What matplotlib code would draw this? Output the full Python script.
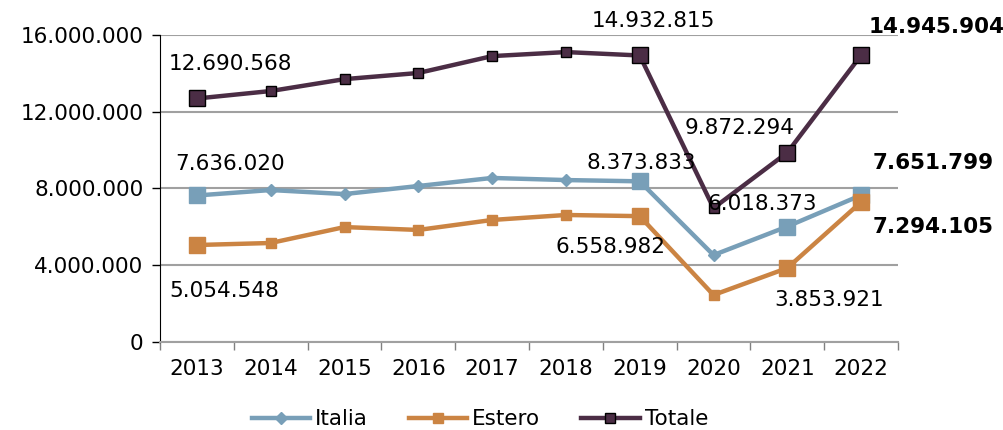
import numpy as np
import matplotlib.pyplot as plt
from matplotlib.ticker import FuncFormatter

anni = ["2013", "2014", "2015", "2016", "2017", "2018", "2019", "2020", "2021", "2022"]
italia = [7636020, 7920000, 7710000, 8130000, 8550000, 8440000, 8373833, 4530000, 6018373, 7651799]
estero = [5054548, 5160000, 5990000, 5840000, 6360000, 6620000, 6558982, 2450000, 3853921, 7294105]
totale = [12690568, 13080000, 13700000, 14020000, 14900000, 15110000, 14932815, 6980000, 9872294, 14945904]

# punti con etichetta (indici degli anni)
idx_big = [0, 6, 8, 9]

col_ita = "#789FB8"
col_est = "#CB8443"
col_tot = "#4B2D45"

plt.rcParams['font.family'] = ['DejaVu Sans']


def fmt(v):
    return f"{v:,.0f}".replace(",", ".")


fig = plt.figure(figsize=(10.04, 4.30), dpi=100)
ax = fig.add_axes([160 / 1004, 88 / 430, 738 / 1004, 307 / 430])
x = np.arange(len(anni))

l1, = ax.plot(x, italia, color=col_ita, lw=3.2, marker="D", ms=6, mec=col_ita, label="Italia", zorder=3)
l2, = ax.plot(x, estero, color=col_est, lw=3.2, marker="s", ms=7, mec=col_est, label="Estero", zorder=3)
l3, = ax.plot(x, totale, color=col_tot, lw=3.2, marker="s", ms=7, mfc=col_tot, mec="black", mew=1, label="Totale", zorder=3)

for serie, c, mec in [(italia, col_ita, col_ita), (estero, col_est, col_est), (totale, col_tot, "black")]:
    ax.plot(x[idx_big], [serie[i] for i in idx_big], ls="none", marker="s", ms=11,
            mfc=c, mec=mec, mew=1, zorder=4)

# etichette dati: (serie, indice, dx, dy in punti, grassetto)
etichette = [
    (totale, 0, 24, 25, False), (italia, 0, 24, 23, False), (estero, 0, 20, -33, False),
    (totale, 6, 10, 25, False), (italia, 6, 1, 13, False), (estero, 6, -21, -22, False),
    (totale, 8, -34, 18, False), (italia, 8, -18, 16, False), (estero, 8, 30, -23, False),
    (totale, 9, 54, 20, True), (italia, 9, 52, 23, True), (estero, 9, 52, -18, True),
]
for serie, i, dx, dy, bold in etichette:
    ax.annotate(fmt(serie[i]), (x[i], serie[i]), xytext=(dx, dy), textcoords="offset points",
                ha="center", va="center", fontsize=15.5, fontweight="bold" if bold else "normal",
                color="black", annotation_clip=False, zorder=5)

ax.set_xlim(-0.5, len(anni) - 0.5)
ax.set_ylim(0, 16000000)
ax.set_yticks(np.arange(0, 16000001, 4000000))
ax.yaxis.set_major_formatter(FuncFormatter(lambda v, p: fmt(v)))
ax.set_xticks(x)
ax.set_xticklabels(anni)
ax.set_xticks(np.arange(-0.5, len(anni), 1), minor=True)
ax.tick_params(axis="x", which="major", length=0, pad=12, labelsize=15.5)
ax.tick_params(axis="x", which="minor", length=6, direction="out", width=1, color="#808080")
ax.tick_params(axis="y", length=6, width=1, labelsize=15.5, pad=6)

ax.grid(axis="y", color="#A0A0A0", lw=1.5)
ax.set_axisbelow(True)
for s in ["top", "right"]:
    ax.spines[s].set_visible(False)
ax.spines["left"].set_color("black")
ax.spines["bottom"].set_color("#A0A0A0")
ax.spines["bottom"].set_linewidth(1.5)

fig.legend(handles=[l1, l2, l3], loc="center", bbox_to_anchor=(0.478, 0.025), ncol=3,
           frameon=False, fontsize=15.5, handlelength=2.7, handletextpad=0.25, columnspacing=1.9)

fig.savefig("out.png", dpi=100)
